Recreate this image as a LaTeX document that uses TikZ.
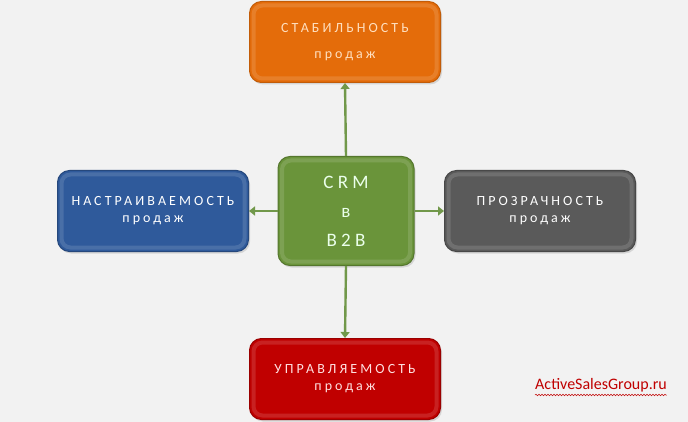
\documentclass[tikz,border=0pt]{standalone}
\usepackage{fontspec}
\setmainfont{Carlito}
\newfontfamily\boxfont[LetterSpace=22]{Carlito}
\usepackage{xcolor}
\usetikzlibrary{arrows.meta, positioning, shadows, decorations.pathmorphing}

\definecolor{bgcol}{HTML}{F2F2F2}
\definecolor{orangebox}{HTML}{E46C0A}
\definecolor{greenbox}{HTML}{6A943A}
\definecolor{bluebox}{HTML}{2F5A9B}
\definecolor{graybox}{HTML}{5A5A5A}
\definecolor{redbox}{HTML}{C00000}
\definecolor{arrowgreen}{HTML}{71984A}
\definecolor{sitered}{HTML}{C00000}

\tikzset{
  salesbox/.style={rounded corners=12pt, minimum width=191pt, minimum height=81pt,
    align=center, font=\boxfont\fontsize{14}{17}\selectfont, line width=1pt,
    drop shadow={opacity=0.25, shadow xshift=1.5pt, shadow yshift=-2pt},
    path picture={\draw[white, opacity=0.13, line width=4pt, rounded corners=9pt]
      ([xshift=4pt, yshift=-4pt]path picture bounding box.north west) rectangle
      ([xshift=-4pt, yshift=4pt]path picture bounding box.south east);}},
  crmbox/.style={salesbox, minimum width=136pt, minimum height=109pt,
    font=\boxfont\fontsize{19}{29}\selectfont},
  link/.style={arrowgreen, line width=2.4pt, -{Triangle[length=6pt, width=9pt]}}
}

\begin{document}
\begin{tikzpicture}[x=1pt, y=-1pt]
  % background of the slide
  \fill[bgcol] (0,0) rectangle (688,422);
  \useasboundingbox (0,0) rectangle (688,422);
  % centre block
  \node[crmbox, fill=greenbox, draw=greenbox!80!black, text=green!8!white] (crm) at (346,211)
    {CRM\\[0pt]в\\B2B};
  % four outcomes
  \node[salesbox, fill=orangebox, draw=orangebox!85!black, text=orange!25!white,
    font=\boxfont\fontsize{14}{26}\selectfont] (stab) at (345,42)
    {СТАБИЛЬНОСТЬ\\продаж};
  \node[salesbox, fill=bluebox, draw=bluebox!80!black, text=white] (nastr) at (153,211)
    {НАСТРАИВАЕМОСТЬ\\продаж};
  \node[salesbox, fill=graybox, draw=graybox!80!black, text=white] (prozr) at (540,211)
    {ПРОЗРАЧНОСТЬ\\продаж};
  \node[salesbox, fill=redbox, draw=redbox!80!black, text=red!12!white] (upr) at (345,379)
    {УПРАВЛЯЕМОСТЬ\\продаж};
  % connectors
  \draw[link] (crm.north) -- (stab.south);
  \draw[link] (crm.west) -- (nastr.east);
  \draw[link] (crm.east) -- (prozr.west);
  \draw[link] (crm.south) -- (upr.north);
  % site name
  \node[text=sitered, font=\fontsize{16}{18}\selectfont, inner sep=0pt] (site) at (601,385)
    {ActiveSalesGroup.ru};
  \draw[sitered, line width=0.5pt, decorate,
    decoration={snake, amplitude=0.8pt, segment length=3pt}]
    ([yshift=-3pt]site.south west) -- ([yshift=-3pt]site.south east);
\end{tikzpicture}
\end{document}
